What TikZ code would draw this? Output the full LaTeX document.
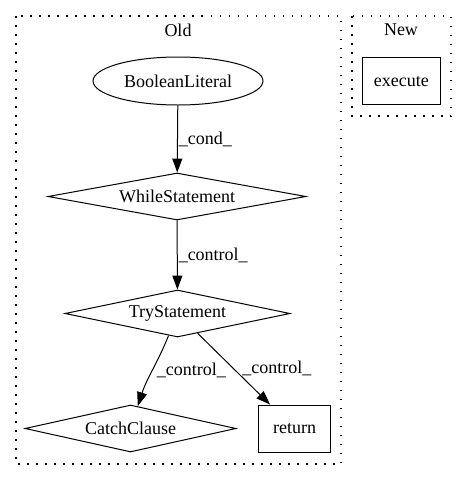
\documentclass[tikz,border=0pt]{standalone}
\usepackage{fontspec}
\setmainfont{Liberation Serif}
\usetikzlibrary{shapes.geometric,arrows.meta}

\begin{document}
\begin{tikzpicture}[x=1pt,y=1pt,
    every node/.style={font=\fontsize{18}{21}\selectfont},
    clusterbox/.style={line width=1.2pt,dash pattern=on 1.5pt off 7.5pt},
    decision/.style={shape=diamond,draw,line width=1pt,inner sep=0pt,aspect=5},
    stmt/.style={shape=rectangle,draw,line width=1pt,inner sep=0pt},
    flow/.style={line width=1pt,-{Triangle[length=14pt,width=10pt]}},
    flowlabel/.style={anchor=west,inner sep=1pt}]
    \useasboundingbox (0,0) rectangle (467,-480);
    \draw[clusterbox] (16,-16) rectangle (341,-464);
    \draw[clusterbox] (352,-16) rectangle (451,-116);
    \node (oldtitle) at (178,-30) {Old};
    \node (newtitle) at (401,-30) {New};
    \node[shape=ellipse,draw,line width=1pt,inner sep=0pt,minimum width=170pt,minimum height=48pt] (boollit) at (178,-81) {BooleanLiteral};
    \node[decision,minimum width=258pt,minimum height=47pt] (whilest) at (177,-196.5) {WhileStatement};
    \node[decision,minimum width=225pt,minimum height=47pt] (tryst) at (177.5,-313.5) {TryStatement};
    \node[decision,minimum width=211pt,minimum height=47pt] (catchcl) at (130.5,-428.5) {CatchClause};
    \node[stmt,minimum width=72pt,minimum height=47.5pt] (ret) at (294.7,-428.8) {return};
    \node[stmt,minimum width=77.5pt,minimum height=47.5pt] (exec) at (401.3,-81.2) {execute};
    \draw[flow] (boollit) -- (whilest) node[midway,flowlabel] {\_cond\_};
    \draw[flow] (whilest) -- (tryst) node[midway,flowlabel] {\_control\_};
    \draw[flow] (tryst) to[out=-112,in=72] node[midway,flowlabel,xshift=3pt] {\_control\_} (catchcl);
    \draw[flow] (tryst) -- (ret) node[midway,flowlabel,xshift=7pt] {\_control\_};
\end{tikzpicture}
\end{document}
